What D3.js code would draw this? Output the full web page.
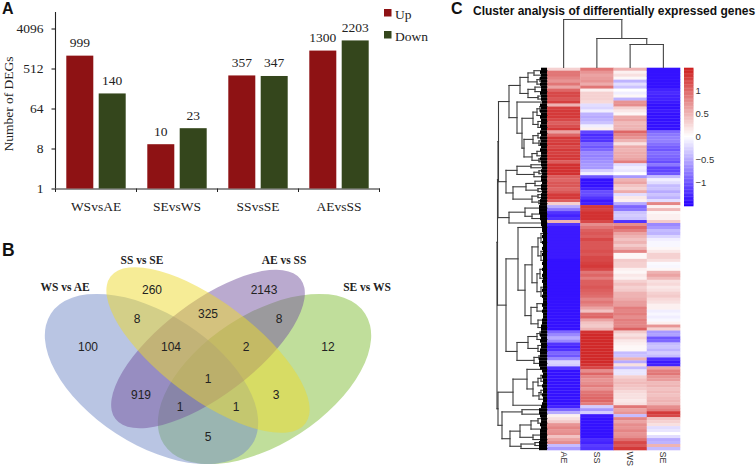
<!DOCTYPE html>
<html>
<head>
<meta charset="utf-8">
<script src="https://d3js.org/d3.v7.min.js"></script>
<style>
    body { margin: 0; background: #fff; }
    svg { display: block; }
    .serif { font-family: "Liberation Serif", serif; fill: #222; }
    .sans { font-family: "Liberation Sans", sans-serif; fill: #222; }
    .panel { font-family: "Liberation Sans", sans-serif; font-weight: bold; fill: #111; }
</style>
</head>
<body>
<svg id="chart" width="756" height="467"></svg>
<script>
// panel A
var comparisons = ["WSvsAE", "SEvsWS", "SSvsSE", "AEvsSS"];
var upValues = [999, 10, 357, 1300];
var downValues = [140, 23, 347, 2203];
var yTicks = [1, 8, 64, 512, 4096];

// panel B
var vennSets = ["WS vs AE", "SS vs SE", "AE vs SS", "SE vs WS"];
var vennCounts = [100, 260, 2143, 12, 8, 325, 8, 104, 2, 1, 919, 3, 1, 1, 5];

// panel C, one value per heatmap row
var heatColumns = ["AE", "SS", "WS", "SE"];
var aeRows = [.3,.9,.9,.8,.7,.9,.6,1,1.2,1.2,1.1,1.25,.5,1.25,1.3,1.3,
    1.3,1.2,1.05,1.15,1.3,.6,1,1.3,1.25,1.3,1.2,1.3,1.25,1.3,1.3,1.05,
    1.35,1.35,1.35,1.35,1.05,1,1.1,1.1,1,1.1,1.3,1.3,1.05,.3,-.5,-.8,
    -1.2,-1.3,-1.2,.5,-1.2,-1.35,-1.35,-1.35,-1.35,-1.35,-1.35,-1.35,-1.35,-1.35,-1.35,-1.35,
    -1.4,-1.4,-1.4,-1.4,-1.4,-1.4,-1.4,-1.4,-1.4,-1.4,-1.4,-1.4,-1.4,-1.4,-1.4,-1.4,
    -1.4,-1.4,-1.4,-1.4,-1.4,-1.4,-1.4,-1.4,-.9,-.7,-.5,-.7,-1.2,-1.3,-1.2,-.9,
    -1,-.7,-.25,-.3,-1.2,-1.4,-1.4,-1.4,-1.4,-1.4,-1.4,-1.4,-1.4,-1.4,-1.4,-1.4,
    -1.4,-1.3,-.9,-.5,.1,.2,.35,.7,.8,.7,.75,.4,.6,.75,-.4,-.6];
var ssRows = [.9,.7,.6,.65,.7,.55,.9,.1,.3,.3,.3,.25,-.2,-.25,-.1,-.45,
    -.5,-.45,-.35,-.1,.1,-1.1,-1.25,-1.2,-1.2,-.9,-1,-.9,-.7,-.75,-.7,-.65,
    -.6,-.6,-.3,-.1,-1,-1.4,-1.4,-1.4,-1.3,-1.05,-1.05,-1.2,-1.35,-1.3,1.3,1.25,
    1.35,1.35,1.35,1.2,.75,.9,1.05,1.1,1.05,1.2,1.1,1.1,1.1,1.15,1.1,1.2,
    1.2,1.25,1.3,1.2,.9,1,.85,1.05,1.05,1.1,1.05,1,.95,.8,.9,.8,
    .6,.4,.95,1,.6,.4,.35,.5,1.35,1.4,1.4,1.4,1.4,1.4,1.4,1.4,
    1.4,1.4,1.4,1.35,1.2,.75,1,.8,.7,.75,.85,.7,.9,.95,1,1,
    .85,-.3,-.6,-.3,-1.35,-1.4,-1.4,-1.4,-1.4,-1.4,-1.4,-1.4,-1.25,-1.3,-1.15,-1.2];
var wsRows = [.5,.1,.2,.05,-.45,-.2,-.35,0,-.1,.05,-.45,.7,.75,.3,.15,.05,
    .55,.6,.45,.5,.5,1,.8,.7,.5,.2,.55,.5,.55,.55,.6,.85,
    -.2,-.1,-.15,0,-.6,.5,.6,.4,.3,.55,-.2,.15,.1,-.5,-.9,-.8,
    -.35,-.3,-.35,-1.2,.75,1,.85,.6,.5,.4,.5,.35,.5,.8,.05,.05,
    .35,.3,.3,.1,.05,.15,.1,.3,.4,.3,.35,.5,.5,.55,.65,.65,
    .85,.8,.85,.75,.85,.8,.8,1.05,.35,.2,.3,.15,.1,.05,.05,-.4,
    -.35,.5,-.5,.2,-.4,-.15,-.15,.3,.4,.45,.4,.35,.25,.2,.2,.15,
    .2,.9,.6,.7,-.4,.8,.6,.75,.7,.8,.7,.75,.95,1.2,1.1,1.3];
var seRows = [-1.4,-1.4,-1.4,-1.4,-1.4,-1.4,-1.4,-1.3,-1.25,-1.3,-1.3,-1.35,-1.4,-1.4,-1.35,-1.4,
    -1.4,-1.4,-1.4,-1.4,-1.4,-.9,-.8,-.75,-.75,-.85,-.95,-1,-.85,-.9,-.95,-1.05,
    -.8,-1.1,-1.1,-1,-.4,-.1,-.2,-.4,-.35,-.5,-.35,-.45,-.2,.8,.1,.45,
    .05,.1,.1,.35,-.7,-.6,-.4,-.45,-.25,-.1,-.05,-.05,.05,.15,.3,.3,
    .2,-.03,-.05,.05,.5,.6,.45,.2,.25,.15,.2,.3,.35,.25,.2,.1,
    .1,-.1,-.05,-.1,-.05,.1,.7,.3,-.6,-.55,-1,-.9,-.4,-.35,-.45,-.3,
    -.4,-1.2,-1.35,-1.3,.6,.85,.9,.7,.65,.45,.5,.4,.45,.4,.45,.5,
    .45,.75,.85,1.3,1.2,.4,.3,.2,-.2,-.15,0,-.2,-.5,-.45,.5,-.4];
var heatValues = [aeRows, ssRows, wsRows, seRows];

// how far the tight twigs of each row reach, same units as the row tree heights
var rowTwigs = [6,7,6,7,6,7,6,6,7,6,6,5,7,6,7,6,
    7,6,6,7,6,7,6,7,6,7,6,7,6,6,7,6,
    6,5,6,5,6,6,5,6,6,5,6,6,7,7,8,8,
    8,7,7,6,6,5,5,4,5,4,5,4,5,4,5,4,
    4,5,4,5,4,5,4,5,4,4,5,4,5,4,4,5,
    4,5,4,4,5,5,6,6,6,7,6,7,6,6,7,7,
    7,8,8,8,7,5,4,5,4,4,5,4,4,5,4,4,
    5,6,8,8,7,6,6,7,6,7,7,7,7,8,8,8];

// nested [height, lower, upper], a bare number is a tuft of that many rows
var rowTree = [50,
    [49.5,
        [49,
            [48.5,
                [38,
                    [27,
                        [19, [13, 2, 1], [10, [7, 1, 1], 1]],
                        [19, [12, 1, 2], [9, 1, 1]]],
                    [30, 1,
                        [25,
                            [14, [10, [7, 2, 1], 2], [9, 2, 2]],
                            [23, [14, [9, 2, 1], [8, 1, 2]], [15, [10, 2, 1], [8, 1, 1]]]]]],
                [41,
                    [30, [16, 1, 1], [13, [8, 1, 1], 1]],
                    [34, [21, [12, 2, 1], [9, 1, 1]], [15, [9, 1, 1], [8, 1, 1]]]]],
            [38, [22, 2, [15, 2, 1]], 2]],
        [41,
            [29, 1,
                [22,
                    [15, [9, [6, 3, 3], [6, 3, 3]], [10, [7, 3, 3], [6, 3, 3]]],
                    [16, [10, 2, 3], [9, 3, 2]]]],
            [30,
                [19, [10, [7, 1, 1], 2], [9, 2, 2]],
                [13, [8, 1, 1], 2]]]],
    [49,
        [34,
            [20, 2, [14, [9, [6, 2, 2], 1], [8, [6, 2, 1], 2]]],
            2],
        [45,
            [25, 1, 2],
            [37,
                [27, [16, [9, 1, 2], 2], [14, 2, 1]],
                [26, [12, 1, 1], 1]]]]];

// column tree, [height, left, right] with the column order as leaves
var colTree = [48, "AE", [29, "SS", [23, "WS", "SE"]]];

var colorTicks = [-1, -0.5, 0, 0.5, 1];

var svg = d3.select("#chart");
var upColor = "#8e1214", downColor = "#34461c";

/* ---------- A ---------- */
var a = svg.append("g").attr("class", "barPanel");

var y = d3.scaleLog().base(2).domain([1, 4096]).range([188.5, 28.5]);
var x0 = d3.scaleBand().domain(comparisons).range([55.5, 379.5]);
var x1 = d3.scaleBand().domain(["up", "down"]).range([0, x0.bandwidth()])
    .paddingInner(1 / 6).paddingOuter(1 / 3);

var yAxis = a.append("g").attr("transform", "translate(55.5,0)")
    .call(d3.axisLeft(y).tickValues(yTicks).tickFormat(d3.format("d")).tickSize(4).tickPadding(8).tickSizeOuter(0));
yAxis.select(".domain").attr("d", "M0,12V188.5");
var xAxis = a.append("g").attr("transform", "translate(0,188.5)")
    .call(d3.axisBottom(x0).tickSize(0).tickPadding(12.5));
a.selectAll("line.sep").data(d3.range(comparisons.length + 1)).enter().append("line")
    .attr("class", "sep")
    .attr("x1", function (d) { return 55.5 + d * x0.step(); })
    .attr("x2", function (d) { return 55.5 + d * x0.step(); })
    .attr("y1", 188.5).attr("y2", 192).attr("stroke", "#222");
[yAxis, xAxis].forEach(function (g) {
    g.attr("font-family", null).attr("font-size", null);
    g.selectAll("text").attr("class", "serif").style("font-size", "13.5px");
    g.selectAll(".domain, line").attr("stroke", "#222").attr("stroke-width", 1.1);
});

comparisons.forEach(function (c, i) {
    var pair = [
        {key: "up", value: upValues[i], color: upColor},
        {key: "down", value: downValues[i], color: downColor}
    ];
    var g = a.append("g").attr("transform", "translate(" + x0(c) + ",0)");
    g.selectAll("rect").data(pair).enter().append("rect")
        .attr("x", function (d) { return x1(d.key); })
        .attr("y", function (d) { return y(d.value); })
        .attr("width", x1.bandwidth())
        .attr("height", function (d) { return y(1) - y(d.value); })
        .attr("fill", function (d) { return d.color; });
    g.selectAll("text").data(pair).enter().append("text")
        .attr("class", "serif")
        .attr("x", function (d) { return x1(d.key) + x1.bandwidth() / 2; })
        .attr("y", function (d) { return y(d.value) - 8.5; })
        .attr("text-anchor", "middle")
        .style("font-size", "13.5px")
        .text(function (d) { return d.value; });
});

a.append("text").attr("class", "serif")
    .attr("transform", "translate(13,104) rotate(-90)")
    .attr("text-anchor", "middle")
    .style("font-size", "13.5px")
    .text("Number of DEGs");

[["Up", upColor, 9], ["Down", downColor, 31]].forEach(function (l) {
    a.append("rect").attr("x", 384).attr("y", l[2]).attr("width", 7.5).attr("height", 7.5).attr("fill", l[1]);
    a.append("text").attr("class", "serif").attr("x", 395).attr("y", l[2] + 9.5)
        .style("font-size", "13.5px").text(l[0]);
});

/* ---------- B ---------- */
var b = svg.append("g").attr("class", "venn");

// green, blue, purple, yellow drawn back to front
var shapes = [
    {set: 3, cx: 264.5, cy: 379, rx: 120, ry: 65, rot: -33, fill: "#82be37"},
    {set: 0, cx: 151.5, cy: 379, rx: 120, ry: 65, rot: 33, fill: "#738cc8"},
    {set: 2, cx: 208, cy: 349, rx: 116, ry: 47, rot: -37, fill: "#7655a0"},
    {set: 1, cx: 208, cy: 350, rx: 122, ry: 48, rot: 37, fill: "#eeda2d"}
];
b.selectAll("ellipse").data(shapes).enter().append("ellipse")
    .attr("cx", function (d) { return d.cx; })
    .attr("cy", function (d) { return d.cy; })
    .attr("rx", function (d) { return d.rx; })
    .attr("ry", function (d) { return d.ry; })
    .attr("transform", function (d) { return "rotate(" + d.rot + " " + d.cx + " " + d.cy + ")"; })
    .attr("fill", function (d) { return d.fill; })
    .attr("fill-opacity", 0.5);

var countSpots = [[88, 347], [152, 290], [264, 290], [328, 347], [137, 319], [208, 314], [279, 319],
    [171, 347], [246, 347], [208, 379], [141, 395], [276, 395], [180, 407], [236, 407], [208, 437]];
b.selectAll("text.count").data(vennCounts).enter().append("text")
    .attr("class", "count sans")
    .attr("x", function (d, i) { return countSpots[i][0]; })
    .attr("y", function (d, i) { return countSpots[i][1]; })
    .attr("dy", "0.36em")
    .attr("text-anchor", "middle")
    .style("font-size", "12px")
    .text(function (d) { return d; });

var setSpots = [[65, 287], [142, 260], [284, 260], [367, 287]];
b.selectAll("text.setName").data(vennSets).enter().append("text")
    .attr("class", "setName serif")
    .attr("x", function (d, i) { return setSpots[i][0]; })
    .attr("y", function (d, i) { return setSpots[i][1]; })
    .attr("dy", "0.36em")
    .attr("text-anchor", "middle")
    .style("font-size", "11.5px")
    .style("font-weight", "bold")
    .text(function (d) { return d; });

/* ---------- C ---------- */
var c = svg.append("g").attr("class", "heat");

var rowCount = aeRows.length;
var hx = d3.scaleBand().domain(heatColumns).range([547, 680]);
var hy = d3.scaleLinear().domain([0, rowCount]).range([67.7, 450]);
var color = d3.scaleLinear().domain([-1.5, 0, 1.5]).range(["#2600ff", "#ffffff", "#cd1a1a"]);

heatValues.forEach(function (col, j) {
    c.append("g").selectAll("rect").data(col).enter().append("rect")
        .attr("x", hx(heatColumns[j]))
        .attr("y", function (d, i) { return hy(i); })
        .attr("width", hx.bandwidth() + 0.3)
        .attr("height", hy(1) - hy(0) + 0.3)
        .attr("fill", function (d) { return color(d); });
});

c.selectAll("text.colName").data(heatColumns).enter().append("text")
    .attr("class", "colName sans")
    .attr("transform", function (d) { return "translate(" + (hx(d) + hx.bandwidth() / 2 - 3) + ",451.5) rotate(90)"; })
    .style("font-size", "9px")
    .style("fill", "#333")
    .text(function (d) { return d; });

// row dendrogram
var treeX = d3.scaleLinear().domain([0, 50]).range([547, 497]);
var rowCursor = 0;
var treeLines = [];

function layoutRow(node) {
    if (typeof node === "number") {
        var mid = rowCursor + node / 2;
        rowCursor += node;
        return {y: hy(mid), h: 0};
    }
    var kids = node.slice(1).map(layoutRow);
    var yMid = (kids[0].y + kids[kids.length - 1].y) / 2;
    treeLines.push([node[0], kids[0].y, node[0], kids[kids.length - 1].y]);
    kids.forEach(function (k) {
        treeLines.push([node[0], k.y, k.h, k.y]);
    });
    return {y: yMid, h: node[0]};
}
layoutRow(rowTree);

c.append("g").selectAll("line").data(treeLines).enter().append("line")
    .attr("x1", function (d) { return treeX(d[0]); })
    .attr("y1", function (d) { return d[1]; })
    .attr("x2", function (d) { return treeX(d[2]); })
    .attr("y2", function (d) { return d[3]; })
    .attr("stroke", "#3c3c3c")
    .attr("stroke-width", 1.1)
    .attr("stroke-linecap", "square");

c.append("g").selectAll("rect").data(rowTwigs).enter().append("rect")
    .attr("x", function (d) { return treeX(d); })
    .attr("y", function (d, i) { return hy(i); })
    .attr("width", function (d) { return treeX(0) - treeX(d); })
    .attr("height", hy(1) - hy(0) + 0.2)
    .attr("fill", "#000");

// column dendrogram
var colY = d3.scaleLinear().domain([0, 48]).range([67.5, 19.5]);
var colLines = [];
function layoutCol(node) {
    if (typeof node === "string") {
        return {x: hx(node) + hx.bandwidth() / 2, h: 0};
    }
    var l = layoutCol(node[1]), r = layoutCol(node[2]);
    colLines.push([l.x, node[0], r.x, node[0]]);
    colLines.push([l.x, node[0], l.x, l.h]);
    colLines.push([r.x, node[0], r.x, r.h]);
    return {x: (l.x + r.x) / 2, h: node[0]};
}
layoutCol(colTree);
c.append("g").selectAll("line").data(colLines).enter().append("line")
    .attr("x1", function (d) { return d[0]; })
    .attr("y1", function (d) { return colY(d[1]); })
    .attr("x2", function (d) { return d[2]; })
    .attr("y2", function (d) { return colY(d[3]); })
    .attr("stroke", "#444")
    .attr("stroke-width", 1.1)
    .attr("stroke-linecap", "square");

// colour bar
var barY = d3.scaleLinear().domain([-1.5, 1.5]).range([206, 67.7]);
c.append("g").selectAll("rect").data(d3.range(-1.5, 1.5, 0.03)).enter().append("rect")
    .attr("x", 684)
    .attr("y", function (d) { return barY(d + 0.03); })
    .attr("width", 9.5)
    .attr("height", barY(0) - barY(0.03) + 0.3)
    .attr("fill", function (d) { return color(d); });
var barAxis = c.append("g").attr("transform", "translate(695.5,0)")
    .call(d3.axisRight(barY).tickValues(colorTicks).tickFormat(d3.format("~g")).tickSize(0).tickPadding(0));
barAxis.select(".domain").remove();
barAxis.attr("font-family", null).attr("font-size", null);
barAxis.selectAll("text").attr("class", "sans").style("font-size", "9.5px").style("fill", "#333");

c.append("text").attr("class", "sans")
    .attr("x", 473).attr("y", 15)
    .style("font-size", "12px").style("font-weight", "bold").style("fill", "#111")
    .text("Cluster analysis of differentially expressed genes");

/* ---------- panel letters ---------- */
[["A", 2, 14, 16], ["B", 2, 256, 17.5], ["C", 451, 14, 16]].forEach(function (p) {
    svg.append("text").attr("class", "panel").attr("x", p[1]).attr("y", p[2])
        .style("font-size", p[3] + "px").text(p[0]);
});
</script>
</body>
</html>
